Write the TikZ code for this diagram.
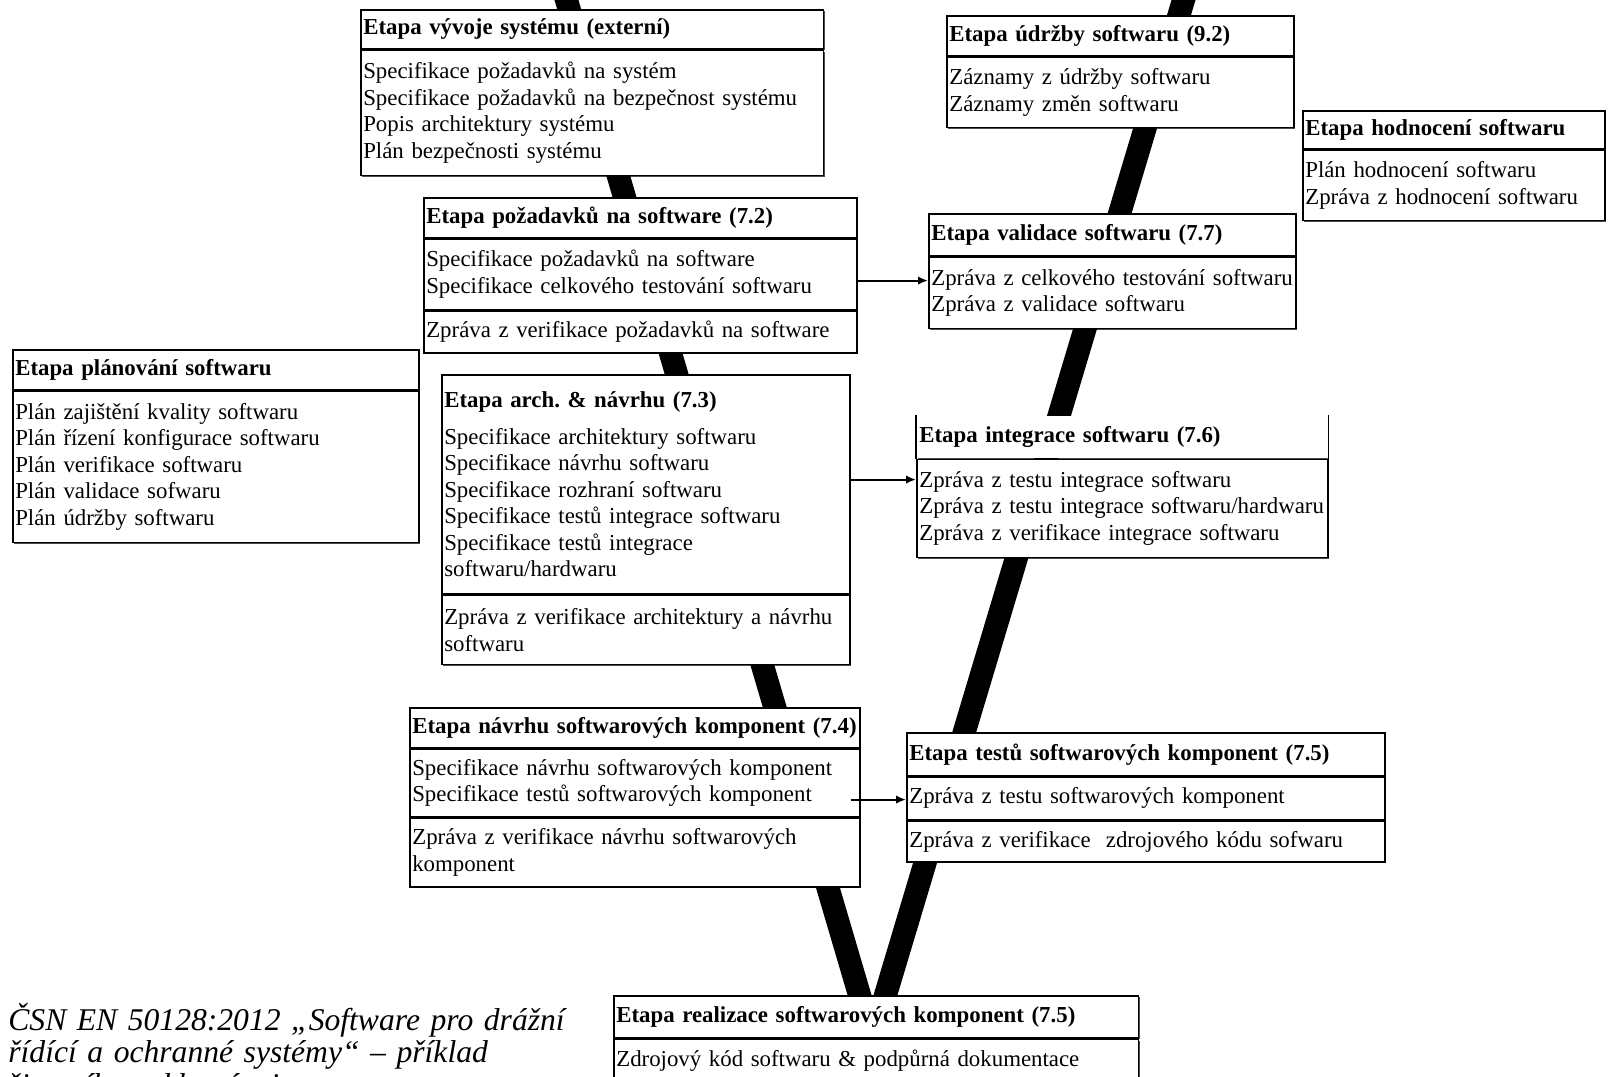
\documentclass[tikz,border=0pt]{standalone}
\usepackage{fontspec}
\setmainfont{Liberation Serif}
\usepackage{tikz}
\usetikzlibrary{arrows.meta,positioning,shadows}
\newcommand{\boxfont}{\fontsize{13}{15.1}\selectfont}
\begin{document}
\begin{tikzpicture}[x=0.02cm,y=-0.02cm,
    bd/.style={draw,line width=0.9pt,fill=white,anchor=north west,
               inner xsep=0.05cm,inner ysep=0pt,align=left,font=\boxfont,
               drop shadow={shadow xshift=0.8pt,shadow yshift=-0.8pt,
                            fill=black,opacity=0.7}},
    hd/.style={bd,font=\boxfont\bfseries},
    a/.style={-{Latex[length=2mm,width=1.7mm]},line width=1.2pt},
    vl/.style={line width=0.46cm},
    note/.style={anchor=base west,inner sep=0pt,text width=12cm,align=left,
                 font=\fontsize{18}{18.6}\selectfont\itshape}
  ]
  \useasboundingbox (0,0) rectangle (1610,1076);
  \clip (0,0) rectangle (1610,1076);

  % the V
  \draw[vl] (565,-5) -- (861,1000);
  \draw[vl] (1185,-5) -- (884,1000);

  % left side
  \node[hd,text width=9.16cm,minimum height=0.78cm] (sysh) at (360,9)
    {Etapa vývoje systému (externí)};
  \node[bd,below=0pt of sysh,text width=9.16cm,minimum height=2.5cm] (sysb)
    {Specifikace požadavků na systém\\Specifikace požadavků na bezpečnost systému\\
     Popis architektury systému\\Plán bezpečnosti systému};

  \node[hd,text width=8.56cm,minimum height=0.8cm] (reqh) at (423,197)
    {Etapa požadavků na software (7.2)};
  \node[bd,below=0pt of reqh,text width=8.56cm,minimum height=1.4cm] (reqb)
    {Specifikace požadavků na software\\Specifikace celkového testování softwaru};
  \node[bd,below=0pt of reqb,text width=8.56cm,minimum height=0.84cm] (reqv)
    {Zpráva z verifikace požadavků na software};

  \node[hd,text width=8.02cm,minimum height=0.8cm] (planh) at (12,349)
    {Etapa plánování softwaru};
  \node[bd,below=0pt of planh,text width=8.02cm,minimum height=3.02cm] (planb)
    {Plán zajištění kvality softwaru\\Plán řízení konfigurace softwaru\\
     Plán verifikace softwaru\\Plán validace sofwaru\\Plán údržby softwaru};

  \node[bd,text width=8.06cm,minimum height=4.38cm] (archa) at (441,374)
    {\textbf{Etapa arch.\ \& návrhu (7.3)}\\[6pt]
     Specifikace architektury softwaru\\Specifikace návrhu softwaru\\
     Specifikace rozhraní softwaru\\Specifikace testů integrace softwaru\\
     Specifikace testů integrace\\softwaru/hardwaru};
  \node[bd,below=0pt of archa,text width=8.06cm,minimum height=1.38cm] (archb)
    {Zpráva z verifikace architektury a návrhu\\softwaru};

  \node[hd,text width=8.9cm,minimum height=0.8cm] (cdesh) at (409,707)
    {Etapa návrhu softwarových komponent (7.4)};
  \node[bd,below=0pt of cdesh,text width=8.9cm,minimum height=1.34cm] (cdesb)
    {Specifikace návrhu softwarových komponent\\Specifikace testů softwarových komponent};
  \node[bd,below=0pt of cdesb,text width=8.9cm,minimum height=1.38cm] (cdesv)
    {Zpráva z verifikace návrhu softwarových\\komponent};

  % bottom
  \node[hd,text width=10.4cm,minimum height=0.84cm] (implh) at (613,995)
    {Etapa realizace softwarových komponent (7.5)};
  \node[bd,below=0pt of implh,text width=10.4cm,minimum height=0.86cm] (implb)
    {Zdrojový kód softwaru \& podpůrná dokumentace};

  % right side
  \node[hd,text width=6.84cm,minimum height=0.8cm] (mainth) at (946,15)
    {Etapa údržby softwaru (9.2)};
  \node[bd,below=0pt of mainth,text width=6.84cm,minimum height=1.4cm] (maintb)
    {Záznamy z údržby softwaru\\Záznamy změn softwaru};

  \node[hd,text width=5.94cm,minimum height=0.76cm] (evalh) at (1302,110)
    {Etapa hodnocení softwaru};
  \node[bd,below=0pt of evalh,text width=5.94cm,minimum height=1.4cm] (evalb)
    {Plán hodnocení softwaru\\Zpráva z hodnocení softwaru};

  \node[hd,text width=7.24cm,minimum height=0.84cm] (validh) at (928,213)
    {Etapa validace softwaru (7.7)};
  \node[bd,below=0pt of validh,text width=7.24cm,minimum height=1.42cm] (validb)
    {Zpráva z celkového testování softwaru\\Zpráva z validace softwaru};

  \node[hd,draw=none,text width=8.12cm,minimum height=0.84cm] (integh) at (916,415)
    {Etapa integrace softwaru (7.6)};
  \draw[line width=0.9pt] (integh.north west) -- (integh.south west)
    (integh.north east) -- (integh.south east);
  \node[bd,below=0pt of integh,text width=8.12cm,minimum height=1.96cm] (integb)
    {Zpráva z testu integrace softwaru\\Zpráva z testu integrace softwaru/hardwaru\\
     Zpráva z verifikace integrace softwaru};

  \node[hd,text width=9.46cm,minimum height=0.86cm] (ctesth) at (906,732)
    {Etapa testů softwarových komponent (7.5)};
  \node[bd,below=0pt of ctesth,text width=9.46cm,minimum height=0.84cm] (ctestb)
    {Zpráva z testu softwarových komponent};
  \node[bd,below=0pt of ctestb,text width=9.46cm,minimum height=0.82cm] (ctestv)
    {Zpráva z verifikace\ \ zdrojového kódu sofwaru};

  % arrows
  \coordinate (vin) at ([yshift=-0.48cm]validb.north west);
  \coordinate (iin) at ([yshift=-0.42cm]integb.north west);
  \coordinate (cin) at ([yshift=-0.46cm]ctestb.north west);
  \draw[a] (reqb.east |- vin) -- (vin);
  \draw[a] (archa.east |- iin) -- (iin);
  \draw[a] ([xshift=-0.2cm]cdesb.east |- cin) -- (cin);

  \node[note] (capt) at (8,1030)
    {ČSN EN 50128:2012 „Software pro drážní\\řídící a ochranné systémy“ – příklad\\
     životního cyklu vývoje};
\end{tikzpicture}
\end{document}
